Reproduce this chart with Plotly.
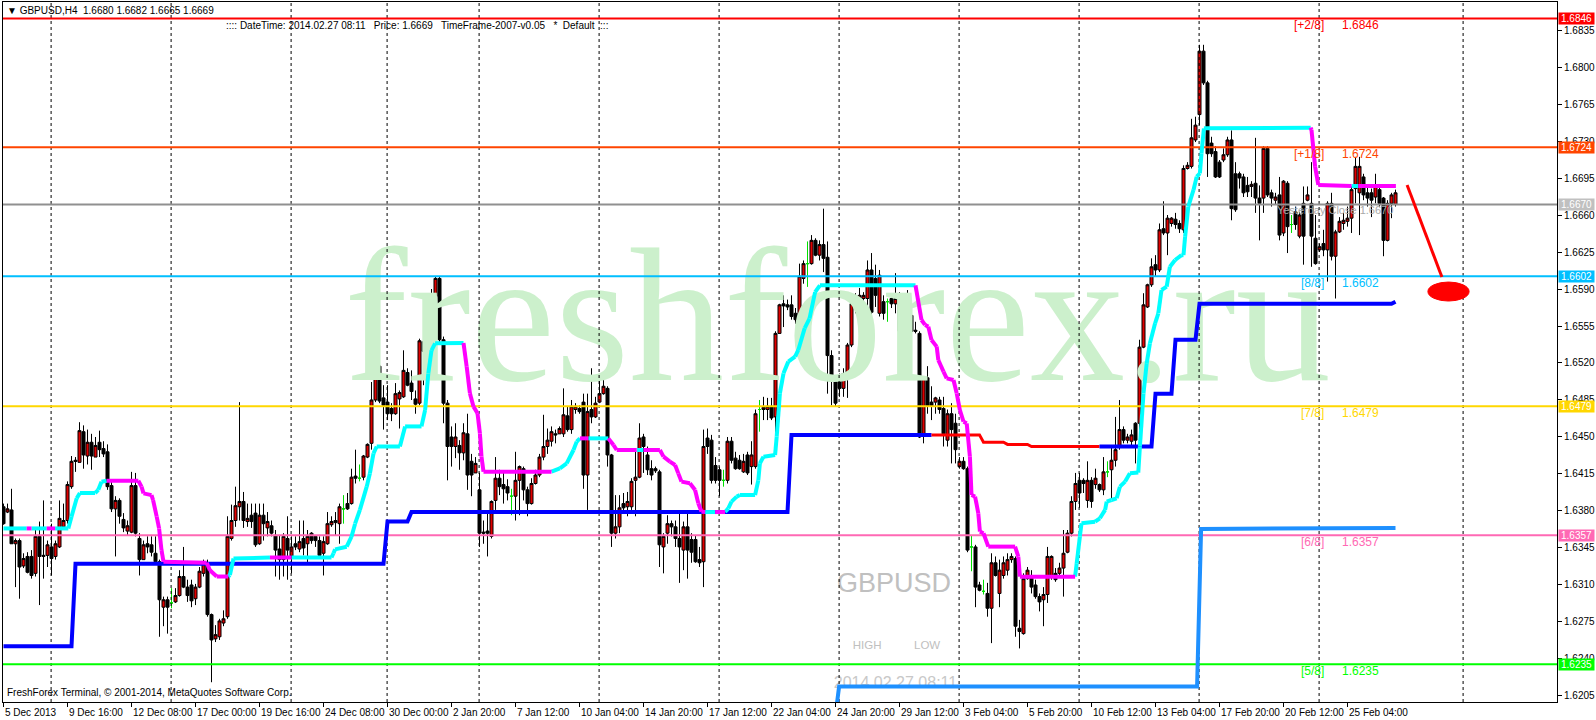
import plotly.graph_objects as go

# ---------------- data (prices in pips above 1.6000) ----------------
BASE = 1.6
PIP = 0.0001

opens_p = [
384,379,381,349,352,328,337,337,321,356, 337,338,346,337,346,365,371,403,428,426,
455,432,445,431,445,439,436,404,382,390, 372,361,360,404,354,334,349,348,340,332,
289,296,293,294,300,318,308,310,297,308, 321,331,282,259,261,274,280,354,371,384,
389,370,376,378,349,376,364,366,357,344, 334,354,337,349,344,354,349,359,356,352,
340,349,367,369,368,382,387,387,413,411, 412,431,444,485,517,487,483,477,472,486,
488,511,501,486,482,540,532,576,583,600, 542,482,450,441,442,435,453,427,416,400,
360,361,356,390,411,405,403,394,394,409, 420,400,387,406,414,431,441,446,453,453,
453,470,457,476,477,483,414,476,469,483, 491,496,433,359,365,387,384,384,409,412,
450,433,420,420,417,346,359,368,365,354, 343,365,353,353,334,332,449,447,423,419,
409,409,446,430,428,417,433,422,422,476, 476,476,479,469,548,576,575,575,567,561,
600,614,614,636,622,632,620,527,504,504, 496,510,537,577,580,581,581,608,600,567,
578,578,581,576,581,568,562,565,551,548, 453,506,483,483,485,477,447,472,463,422,
427,420,346,346,310,304,302,288,331,302, 319,324,334,335,269,264,316,319,310,299,
296,301,318,321,321,326,341,359,389,409, 409,390,409,405,405,400,417,419,428,441,
457,447,446,463,463,535,573,594,613,608, 647,643,652,656,652,646,704,706,731,755,
815,785,728,720,710,712,717,731,699,699, 696,688,687,690,676,676,723,681,674,679,
643,690,651,663,640,671,674,671,638,627, 633,627,671,621,644,652,654,657,685,681,
696,681,681,677,684,676,636,671,670]

highs_p = [
387,387,401,354,354,340,341,343,362,370, 390,352,368,352,390,387,408,432,431,464,
461,457,453,450,456,446,443,409,394,392, 378,371,417,416,359,352,356,356,356,334,
299,299,307,307,324,346,315,315,311,327, 334,334,283,272,278,286,375,386,403,483,
398,387,387,387,387,387,379,371,362,357, 359,375,356,356,371,371,362,360,357,356,
356,379,375,379,387,395,397,420,438,424, 433,444,502,576,535,499,499,482,501,494,
532,515,513,494,543,543,560,590,602,602, 545,485,460,463,447,463,472,434,431,416,
371,378,390,431,419,416,410,401,436,423, 422,403,411,419,434,471,458,460,457,460,
496,479,485,482,480,491,491,515,488,507, 507,498,434,395,395,397,398,411,438,463,
453,441,428,422,419,359,376,371,371,378, 370,379,359,357,346,457,458,452,431,422,
419,450,450,436,433,434,436,446,476,485, 488,487,487,550,576,584,580,584,572,614,
617,635,641,638,636,666,635,532,507,510, 515,539,578,586,591,587,617,624,613,608,
584,581,583,605,587,580,589,572,559,550, 507,517,498,488,488,488,476,482,472,431,
431,422,357,348,313,315,312,340,337,334, 337,340,340,337,277,321,327,324,315,302,
308,346,338,326,331,362,362,394,416,416, 411,427,412,420,406,431,427,441,469,485,
460,453,457,464,542,586,595,619,622,652, 673,660,658,662,655,707,710,751,753,821,
821,787,734,725,712,723,734,740,710,701, 699,696,692,733,688,725,725,684,681,696,
693,692,660,668,663,687,687,710,660,633, 646,673,681,646,658,662,668,687,715,715,
699,687,685,699,688,677,674,681,684]

lows_p = [
367,378,349,308,297,326,321,316,318,291, 316,327,319,334,345,364,368,401,417,426,
420,424,419,431,431,431,400,379,337,368, 360,357,359,356,319,334,340,337,330,261,
271,264,288,293,299,307,294,289,291,307, 318,280,218,256,258,271,278,352,365,371,
364,365,364,346,348,352,356,356,318,315, 318,315,321,343,341,338,329,349,346,335,
319,348,365,357,349,368,381,386,406,408, 409,430,438,483,482,457,466,465,471,458,
487,498,485,472,480,499,530,560,581,540, 463,409,422,430,419,428,400,394,416,346,
349,337,354,381,395,387,390,376,371,376, 390,375,386,405,412,428,434,441,444,453,
450,455,453,472,472,401,381,463,468,482, 490,422,346,354,359,378,375,381,375,411,
416,414,409,416,327,321,349,356,346,312, 324,316,331,331,327,308,434,406,406,394,
403,406,425,419,419,416,414,405,420,455, 466,466,466,452,548,554,570,561,557,561,
595,592,613,621,617,606,491,480,479,488, 488,487,535,567,578,568,568,535,573,564,
561,559,572,567,523,540,551,545,548,449, 444,472,466,472,472,441,441,425,425,420,
419,341,323,289,304,301,280,255,318,289, 316,319,331,261,250,263,315,302,297,285,
271,293,315,313,318,299,340,356,381,383, 397,383,383,401,398,395,412,392,422,438,
444,444,442,425,444,534,572,592,602,606, 641,622,649,647,643,643,703,704,729,745,
783,696,715,695,695,710,715,655,663,685, 677,677,677,662,636,662,677,668,670,636,
640,624,643,646,638,613,673,611,613,625, 621,597,617,581,643,646,649,643,671,641,
674,668,658,671,668,621,635,657,668]

closes_p = [
368,382,349,352,327,335,322,319,356,337, 338,348,335,349,373,371,405,427,427,456,
433,445,432,442,438,434,403,382,390,375, 364,366,404,359,334,348,346,341,332,296,
296,289,293,300,318,308,300,295,308,323, 331,282,258,263,276,278,356,371,385,389,
371,373,370,348,376,368,370,359,343,334, 356,343,346,346,351,345,356,352,352,338,
351,368,370,371,384,382,382,412,411,411, 432,443,485,517,484,480,472,472,491,492,
513,499,493,481,541,531,534,584,600,542, 482,441,441,450,435,454,414,414,425,359,
359,359,389,411,403,401,397,394,409,422, 400,387,406,414,431,441,447,455,452,458,
471,457,479,479,474,414,474,469,482,491, 498,433,359,365,383,383,389,408,412,449,
441,419,414,418,348,356,368,365,354,346, 365,343,341,332,331,441,441,409,409,409,
409,446,428,420,420,427,416,433,472,476, 478,479,468,548,575,574,573,564,561,602,
614,614,636,622,632,619,527,504,482,496, 510,537,576,581,584,584,608,568,584,603,
567,578,576,581,550,548,567,550,550,450, 506,479,479,487,476,453,472,457,438,427,
420,343,346,308,305,304,288,331,319,324, 331,334,337,271,266,316,324,308,299,294,
301,337,337,315,326,340,359,389,406,397, 406,409,389,411,400,417,417,428,438,457,
447,450,452,447,535,575,594,611,608,646, 643,657,657,651,647,704,707,733,745,815,
785,718,718,696,696,717,731,666,665,695, 681,682,689,676,671,723,679,676,677,641,
692,649,651,651,660,640,679,640,614,630, 627,671,621,644,654,655,657,684,706,706,
679,676,674,687,671,636,671,679,681]

# x-axis labels (every 16 bars)
tick_labels = ["5 Dec 2013", "9 Dec 16:00", "12 Dec 08:00", "17 Dec 00:00", "19 Dec 16:00",
               "24 Dec 08:00", "30 Dec 00:00", "2 Jan 20:00", "7 Jan 12:00", "10 Jan 04:00",
               "14 Jan 20:00", "17 Jan 12:00", "22 Jan 04:00", "24 Jan 20:00", "29 Jan 12:00",
               "3 Feb 04:00", "5 Feb 20:00", "10 Feb 12:00", "13 Feb 04:00", "17 Feb 20:00",
               "20 Feb 12:00", "25 Feb 04:00"]
tick_step = 16

# weekly separators (bar index)
grid_bars = [12, 42, 72, 96, 119, 149, 179, 209, 239, 269, 299, 329, 365]

# Murrey levels
level_prices = [1.6846, 1.6724, 1.6670, 1.6602, 1.6479, 1.6357, 1.6235]
level_colors = ["#FF0000", "#FF4500", "#909090", "#00BFFF", "#FFD700", "#FF69B4", "#00FF00"]
level_box_colors = ["#FF0000", "#FF4500", "#C0C0C0", "#00BFFF", "#FFD700", "#FF69B4", "#00FF00"]
level_tags = ["[+2/8]", "[+1/8]", "", "[8/8]", "[7/8]", "[6/8]", "[5/8]"]

# support line (blue), its red section, second blue section
sup_x = [0, 17, 18, 95, 96, 101, 102, 196, 197, 232]
sup_v = [252, 252, 330, 330, 370, 370, 379, 379, 452, 452]
res_x = [232, 244, 245, 250, 251, 256, 257, 274]
res_v = [452, 452, 445, 445, 443, 443, 441, 441]
sup2_x = [274, 287, 288, 292, 293, 298, 299, 347, 348]
sup2_v = [441, 441, 491, 491, 542, 542, 576, 576, 578]

# dodger blue line
dod_x = [208.4, 208.9, 298.4, 299.4, 348]
dod_v = [199, 214, 214, 363, 364]

# trailing line vertices
tl_x = [0, 5.8, 7.0, 10.8, 12.9, 16.2, 17.0, 18.3, 19.1, 22.9, 23.7, 24.5, 25.8, 33.7, 34.5,
        35.0, 37.0, 37.4, 38.3, 38.9, 39.5, 40.0, 50.8, 51.6, 53.3, 56.2, 56.6, 57.5, 66.6, 72.0,
        82.0, 82.5, 82.9, 85.8, 87.0, 87.9, 89.1, 90.8, 91.6, 92.5, 93.3, 99.1, 100.4, 104.5, 105.4,
        106.2, 107.0, 107.9, 115.0, 115.8, 116.6, 117.5, 118.5, 119.1, 119.5, 120.0, 137.0, 139.1, 140.8, 142.5,
        143.3, 144.1, 146.2, 151.2, 152.5, 153.3, 158.3, 160.0, 164.1, 165.0, 166.6, 167.9, 168.7, 169.5, 171.6,
        172.9, 173.7, 174.5, 175.4, 177.9, 180.4, 181.2, 182.0, 183.3, 184.1, 187.9, 188.7, 189.1, 190.0, 192.9,
        193.3, 194.1, 195.0, 196.2, 197.9, 198.7, 200.3, 201.5, 202.9, 204.1, 228.0, 229.5, 230.4, 231.2, 232.0,
        233.3, 233.7, 235.0, 235.8, 237.5, 238.3, 239.1, 240.0, 240.8, 241.6, 242.0, 242.9, 243.7, 244.1, 245.0,
        246.2, 252.9, 253.7, 254.1, 267.9, 268.3, 269.1, 269.5, 272.9, 274.1, 275.4, 275.8, 277.0, 278.3, 279.1,
        280.4, 281.6, 283.7, 284.1, 285.0, 285.8, 286.6, 287.9, 288.7, 289.5, 290.8, 291.6, 292.9, 294.5, 295.0,
        295.4, 296.2, 297.5, 298.3, 299.1, 299.5, 300.1, 326.8, 327.0, 327.9, 328.7, 337.0, 338.7, 348.1]
tl_v = [363.5, 363.5, 363.5, 363.5, 363.5, 363.5, 374.6, 392, 397, 397, 400, 407.7, 408.6, 408.6, 403,
        396.7, 395, 390.3, 374.6, 363.5, 343, 332, 331, 324, 318, 318, 319.4, 335, 336, 336,
        336, 340, 343.7, 346.2, 355.7, 368, 381, 403, 415.6, 434.5, 441, 441, 460, 460, 475.5,
        510, 532, 538.6, 539, 516.5, 491.3, 478.7, 472.4, 453.5, 431.4, 417.2, 417.2, 420.4, 425, 437.7,
        445.6, 448.7, 448.7, 448.7, 442.4, 437.7, 437.7, 437.7, 437.7, 431.4, 426.7, 423.5, 415.6, 407.8, 406.2,
        399.9, 387.3, 379.4, 379, 379, 379, 382.5, 388.8, 393.6, 395.1, 395.1, 409, 425, 431.4, 433,
        450.3, 491.3, 510.2, 521.3, 526, 532.3, 553, 562, 587, 593.5, 593.5, 560.7, 556, 554.4, 541.8,
        535.5, 522.8, 511.8, 505.5, 503.9, 491.3, 475.5, 464.5, 462.9, 431.4, 395.1, 393.6, 377.8, 360.4, 358.9,
        346.3, 346.3, 336.8, 317.9, 317.9, 330.5, 355.8, 368.4, 369.9, 373.1, 381, 388.8, 390.4, 392, 403,
        407.8, 415.6, 416.3, 440.9, 491.3, 519.7, 538.6, 557.5, 567, 589, 592.2, 611.1, 617.4, 622, 622,
        639.5, 667.9, 683.7, 696.3, 699.4, 718.3, 742, 742.6, 740.4, 705.7, 688.4, 687.4, 687.4, 687.4]
# colour switches of the trailing line (c = cyan/up, m = magenta/down)
tl_switch_x = [0, 5.8, 7.0, 10.8, 12.9, 25.8, 56.2, 66.6, 72.0, 115.0, 137.0, 144.1, 146.2,
               151.2, 158.3, 160.0, 175.4, 177.9, 180.4, 228.0, 267.9, 326.8, 337.0, 338.7]
tl_switch_c = ["c", "m", "c", "m", "c", "m", "c", "m", "c", "m", "c", "m", "c",
               "m", "c", "m", "c", "m", "c", "m", "c", "m", "c", "m"]

# red arrow (projection) and target ellipse
arrow_x = [350.9, 359.6]
arrow_v = [688.4, 601.3]
ellipse_x = [356.1, 366.4]
ellipse_v = [578.6, 596.6]

# ---------------- helpers ----------------
def pr(v):
    return None if v is None else BASE + v * PIP

N = len(opens_p)
bars = list(range(N))
Y0, Y1 = 1.61993, 1.68615
X0, X1 = -0.125, 388.375
FONT = "Liberation Sans"

fig = go.Figure()

# watermark (behind everything)
fig.add_trace(go.Scatter(x=[208.5], y=[pr(548.8)], mode="text", text=["freshforex.ru"],
                         textposition="middle center",
                         textfont=dict(family="Liberation Serif", size=190, color="rgb(204,240,204)"),
                         hoverinfo="skip"))
# background info texts
fig.add_trace(go.Scatter(x=[222.6], y=[pr(309.5)], mode="text", text=["GBPUSD"],
                         textposition="middle center",
                         textfont=dict(family=FONT, size=27, color="#C0C0C0"), hoverinfo="skip"))
fig.add_trace(go.Scatter(x=[215.9, 230.9], y=[pr(252.3), pr(252.3)], mode="text", text=["HIGH", "LOW"],
                         textposition="middle center",
                         textfont=dict(family=FONT, size=11.5, color="#C0C0C0"), hoverinfo="skip"))
fig.add_trace(go.Scatter(x=[223.0], y=[pr(216)], mode="text", text=["2014.02.27 08:11"],
                         textposition="middle center",
                         textfont=dict(family=FONT, size=16, color="#C8C8C8"), hoverinfo="skip"))
fig.add_trace(go.Scatter(x=[332.9], y=[pr(663.8)], mode="text", text=["Yesterday Close 1.6670"],
                         textposition="middle center",
                         textfont=dict(family=FONT, size=11, color="#A8A8A8"), hoverinfo="skip"))

# weekly dashed separators
gx, gy = [], []
for g in grid_bars:
    gx += [g - 0.1, g - 0.1, None]
    gy += [Y0, Y1, None]
fig.add_trace(go.Scatter(x=gx, y=gy, mode="lines", line=dict(color="black", width=1, dash="3px,3px"),
                         hoverinfo="skip"))

# candles
body = [i for i in bars if opens_p[i] != closes_p[i]]
doji = [i for i in bars if opens_p[i] == closes_p[i]]
fig.add_trace(go.Candlestick(
    x=body, open=[pr(opens_p[i]) for i in body], high=[pr(highs_p[i]) for i in body],
    low=[pr(lows_p[i]) for i in body], close=[pr(closes_p[i]) for i in body],
    increasing=dict(line=dict(color="black", width=1), fillcolor="#E00000"),
    decreasing=dict(line=dict(color="black", width=1), fillcolor="black"),
    whiskerwidth=0, hoverinfo="skip"))
fig.add_trace(go.Candlestick(
    x=doji, open=[pr(opens_p[i]) for i in doji], high=[pr(highs_p[i]) for i in doji],
    low=[pr(lows_p[i]) for i in doji], close=[pr(closes_p[i]) for i in doji],
    increasing=dict(line=dict(color="#00E000", width=1), fillcolor="#00E000"),
    decreasing=dict(line=dict(color="#00E000", width=1), fillcolor="#00E000"),
    whiskerwidth=0, hoverinfo="skip"))

# horizontal Murrey levels
for lp, lc in zip(level_prices, level_colors):
    fig.add_trace(go.Scatter(x=[X0, X1], y=[lp, lp], mode="lines", line=dict(color=lc, width=2),
                             hoverinfo="skip"))

# support lines
fig.add_trace(go.Scatter(x=sup_x, y=[pr(v) for v in sup_v], mode="lines",
                         line=dict(color="#0000FF", width=4), hoverinfo="skip"))
fig.add_trace(go.Scatter(x=res_x, y=[pr(v) for v in res_v], mode="lines",
                         line=dict(color="#FF0000", width=3), hoverinfo="skip"))
fig.add_trace(go.Scatter(x=sup2_x, y=[pr(v) for v in sup2_v], mode="lines",
                         line=dict(color="#0000FF", width=4), hoverinfo="skip"))
fig.add_trace(go.Scatter(x=dod_x, y=[pr(v) for v in dod_v], mode="lines",
                         line=dict(color="#1E90FF", width=4), hoverinfo="skip"))


def seg_colour(xstart):
    col = tl_switch_c[0]
    for sx, sc in zip(tl_switch_x, tl_switch_c):
        if sx <= xstart + 1e-9:
            col = sc
    return col


runs = {"c": ([], []), "m": ([], [])}
for k in range(len(tl_x) - 1):
    xs, ys = runs[seg_colour(tl_x[k])]
    xs += [tl_x[k], tl_x[k + 1], None]
    ys += [pr(tl_v[k]), pr(tl_v[k + 1]), None]
for col, clr in (("c", "#00FFFF"), ("m", "#FF00FF")):
    xs, ys = runs[col]
    fig.add_trace(go.Scatter(x=xs, y=ys, mode="lines", line=dict(color=clr, width=4),
                             hoverinfo="skip", connectgaps=False))

# red arrow
fig.add_trace(go.Scatter(x=arrow_x, y=[pr(v) for v in arrow_v], mode="lines",
                         line=dict(color="#FF0000", width=3), hoverinfo="skip"))

shapes = [dict(type="circle", xref="x", yref="y", x0=ellipse_x[0], x1=ellipse_x[1],
               y0=pr(ellipse_v[0]), y1=pr(ellipse_v[1]), fillcolor="#FF0000",
               line=dict(color="#FF0000", width=1), layer="above")]

annotations = []
for k, t in enumerate(tick_labels):
    annotations.append(dict(x=k * tick_step, xref="x", y=0, yref="paper", text=t, showarrow=False,
                            xanchor="left", yanchor="top", yshift=-3, xshift=-1,
                            font=dict(family=FONT, size=10, color="black")))
for lp, bc, tag, lc in zip(level_prices, level_box_colors, level_tags, level_colors):
    annotations.append(dict(x=1, xref="paper", y=lp, yref="y", text="%.4f" % lp, showarrow=False,
                            xanchor="left", yanchor="middle", xshift=1, bgcolor=bc, borderpad=0,
                            width=35, font=dict(family=FONT, size=10, color="white")))
    if tag:
        annotations.append(dict(x=330.3, xref="x", y=lp, yref="y", text=tag, showarrow=False,
                                xanchor="right", yanchor="top", yshift=1, borderpad=0,
                                font=dict(family=FONT, size=12, color=lc)))
        annotations.append(dict(x=334.3, xref="x", y=lp, yref="y", text="%.4f" % lp, showarrow=False,
                                xanchor="left", yanchor="top", yshift=1, borderpad=0,
                                font=dict(family=FONT, size=12, color=lc)))
annotations.append(dict(x=0, xref="paper", y=1, yref="paper", xanchor="left", yanchor="top",
                        xshift=2, yshift=-1, showarrow=False,
                        text="\u25BC GBPUSD,H4  1.6680 1.6682 1.6665 1.6669",
                        font=dict(family=FONT, size=10, color="black")))
annotations.append(dict(x=0, xref="paper", y=1, yref="paper", xanchor="left", yanchor="top",
                        xshift=221, yshift=-16, showarrow=False,
                        text=":::: DateTime: 2014.02.27 08:11   Price: 1.6669   TimeFrame-2007-v0.05   *  Default  :::",
                        font=dict(family=FONT, size=10, color="black")))
annotations.append(dict(x=0, xref="paper", y=0, yref="paper", xanchor="left", yanchor="bottom",
                        xshift=2, yshift=2, showarrow=False,
                        text="FreshForex Terminal, \u00A9 2001-2014, MetaQuotes Software Corp.",
                        font=dict(family=FONT, size=10, color="black")))

ytick_vals = [round(1.6205 + 0.0035 * k, 4) for k in range(19)]

fig.update_layout(
    width=1596, height=720,
    margin=dict(l=3, r=39, t=2, b=18, pad=0),
    paper_bgcolor="white", plot_bgcolor="white",
    showlegend=False, hovermode=False,
    boxgap=0.25, boxgroupgap=0,
    shapes=shapes, annotations=annotations,
    xaxis=dict(range=[X0, X1], showgrid=False, zeroline=False, showline=True, linecolor="black",
               linewidth=1, mirror=True, ticks="outside", ticklen=4, tickcolor="black",
               tickvals=[k * tick_step for k in range(len(tick_labels))], showticklabels=False,
               rangeslider=dict(visible=False), fixedrange=True),
    yaxis=dict(range=[Y0, Y1], side="right", showgrid=False, zeroline=False, showline=True,
               linecolor="black", linewidth=1, mirror=True, ticks="outside", ticklen=4,
               tickcolor="black", tickvals=ytick_vals, ticktext=["%.4f" % v for v in ytick_vals],
               tickfont=dict(family=FONT, size=10, color="black"), fixedrange=True),
)

fig.write_html("out.html",
               config={"displayModeBar": False},
               post_script="document.body.style.margin='0';document.body.style.padding='0';"
                           "document.body.style.overflow='hidden';")
